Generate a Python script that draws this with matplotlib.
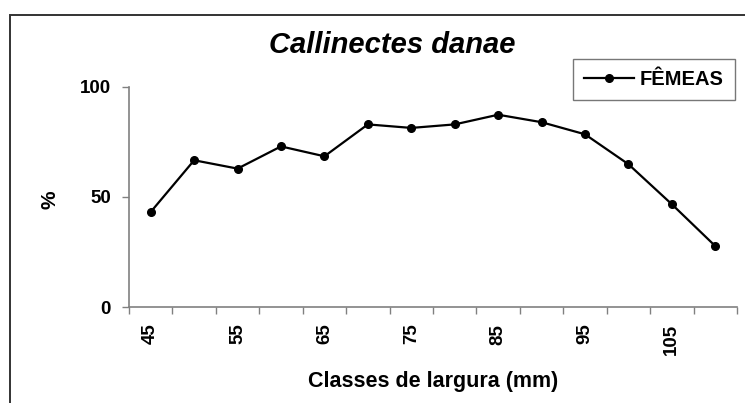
import matplotlib
matplotlib.use("Agg")
import matplotlib.pyplot as plt
from matplotlib.patches import Rectangle
import numpy as np

plt.rcParams['font.family'] = ['Liberation Sans', 'DejaVu Sans']

classes = [45, 50, 55, 60, 65, 70, 75, 80, 85, 90, 95, 100, 105, 110]
femeas = [43.2, 66.7, 62.9, 73.0, 68.5, 83.0, 81.4, 83.0, 87.4, 84.0, 78.5, 64.9, 46.7, 27.7]
tick_labels = ['45', '55', '65', '75', '85', '95', '105']
title = 'Callinectes danae'
xlabel = 'Classes de largura (mm)'
ylabel = '%'
series_name = 'FÊMEAS'

W, H = 745, 403
fig = plt.figure(figsize=(W / 100, H / 100), dpi=100)
ax = fig.add_axes([129 / W, 1 - 307 / H, (737 - 129) / W, (307 - 87) / H])

x = np.arange(len(classes))
ax.plot(x, femeas, color='black', lw=1.6, marker='o', markersize=5.5,
        markerfacecolor='black', markeredgecolor='black', label=series_name)

ax.set_xlim(-0.5, len(classes) - 0.5)
ax.set_ylim(0, 100)
ax.set_yticks([0, 50, 100])
ax.set_yticklabels(['0', '50', '100'], fontweight='bold', fontsize=13.5)

ax.set_xticks(x[::2])
ax.set_xticklabels(tick_labels, rotation=90, fontweight='bold', fontsize=13.5, va='top')
ax.set_xticks(np.arange(-0.5, len(classes), 1.0), minor=True)
ax.tick_params(axis='x', which='major', length=0, pad=12)
ax.tick_params(axis='x', which='minor', length=5, width=1, color='#808080', direction='out')
ax.tick_params(axis='y', which='major', length=5, width=1, color='#808080', direction='out', pad=8)

for s in ['top', 'right']:
    ax.spines[s].set_visible(False)
for s in ['left', 'bottom']:
    ax.spines[s].set_color('#808080')
    ax.spines[s].set_linewidth(1.2)

fig.text(392 / W, 1 - 45 / H, title, ha='center', va='center',
         fontsize=21, fontweight='bold', fontstyle='italic')
fig.text(433 / W, 1 - 381 / H, xlabel, ha='center', va='center',
         fontsize=15.5, fontweight='bold')
fig.text(50 / W, 1 - 200 / H, ylabel, ha='center', va='center',
         fontsize=15, fontweight='bold', rotation=90)

leg = ax.legend(loc='upper right', bbox_to_anchor=(735 / W, 1 - 59 / H),
                bbox_transform=fig.transFigure, frameon=True, fancybox=False,
                handlelength=2.5, borderpad=0.55, handletextpad=0.3,
                prop={'weight': 'bold', 'size': 14.5}, borderaxespad=0)
leg.get_frame().set_edgecolor('#555555')
leg.get_frame().set_linewidth(1.0)

border = Rectangle((9.5 / W, -0.1), 1.0, (H - 15) / H + 0.1,
                   transform=fig.transFigure, fill=False,
                   edgecolor='#333333', linewidth=1.4, clip_on=False)
fig.patches.append(border)

fig.savefig('out.png', dpi=100)
